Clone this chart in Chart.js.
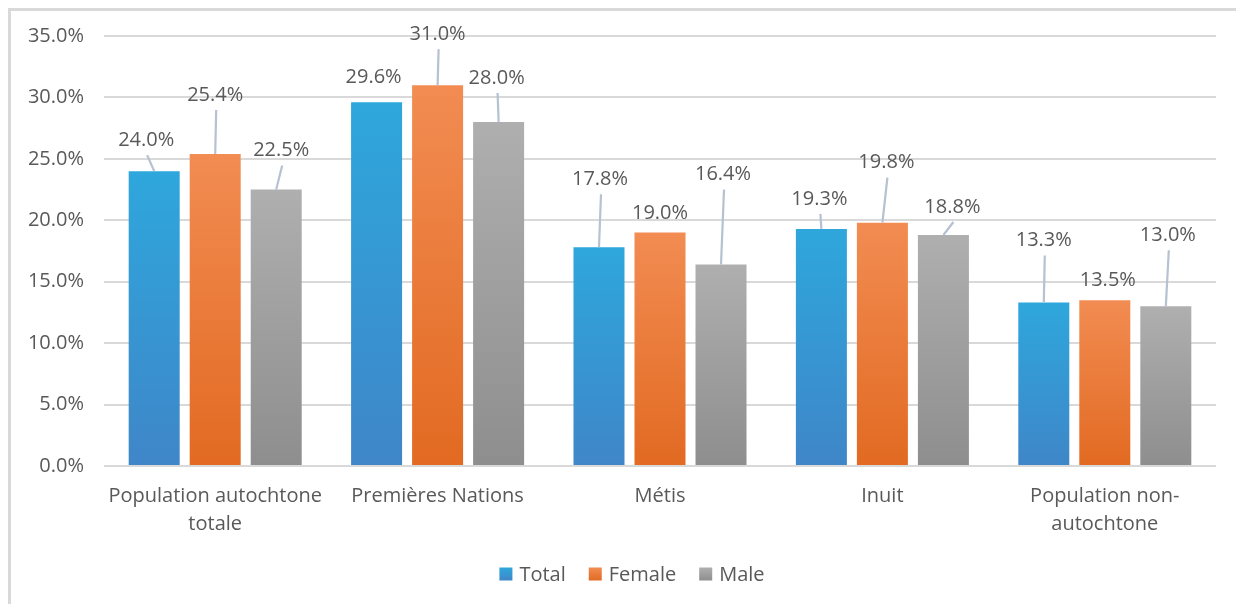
<!DOCTYPE html>
<html>
<head>
<meta charset="utf-8">
<script src="https://cdn.jsdelivr.net/npm/chart.js@4.4.1/dist/chart.umd.min.js"></script>
<style>
  html, body { margin: 0; padding: 0; background: #ffffff; }
  #wrap { width: 1236px; height: 604px; position: relative; }
</style>
</head>
<body>
<div id="wrap"><canvas id="c" width="1236" height="604"></canvas></div>
<script>
// ---- Data ----
const categories = [
  ["Population autochtone", "totale"],
  "Premières Nations",
  "Métis",
  "Inuit",
  ["Population non-", "autochtone"]
];
const seriesNames = ["Total", "Female", "Male"];
const totalValues  = [24.0, 29.6, 17.8, 19.3, 13.3];
const femaleValues = [25.4, 31.0, 19.0, 19.8, 13.5];
const maleValues   = [22.5, 28.0, 16.4, 18.8, 13.0];
const yTicks = [0, 5, 10, 15, 20, 25, 30, 35];

// ---- Styling (not data) ----
const gradients = [
  ["#2ea7dc", "#3f86c8"],
  ["#f28c52", "#e26a22"],
  ["#afafaf", "#8e8e8e"]
];
// label centre offsets from the top centre of each bar [dx, dy]
const labelOffsets = [
  [[-8,-32],[-3,-26],[1,-69],[-2,-31],[0,-63]],
  [[0,-60],[0,-52],[0,-20],[4,-61],[3,-21]],
  [[5,-40],[-2,-45],[2,-91],[9,-29],[2,-72]]
];
const TEXT = "#595959";
const GRID = "#d9d9d9";
const FONT = "'Open Sans', 'Noto Sans', sans-serif";
const FS = 20;

Chart.defaults.font.family = FONT;
Chart.defaults.font.size = FS;
Chart.defaults.color = TEXT;

function barGradient(idx) {
  return function(ctx) {
    const chart = ctx.chart;
    const ys = chart.scales && chart.scales.y;
    if (!ys || !chart.chartArea || ctx.raw === undefined) return gradients[idx][0];
    const top = ys.getPixelForValue(ctx.raw);
    const bottom = ys.getPixelForValue(0);
    if (!isFinite(top) || !isFinite(bottom) || top === bottom) return gradients[idx][0];
    const g = chart.ctx.createLinearGradient(0, top, 0, bottom);
    g.addColorStop(0, gradients[idx][0]);
    g.addColorStop(1, gradients[idx][1]);
    return g;
  };
}

const framePlugin = {
  id: 'frame',
  beforeDraw(chart) {
    const c = chart.ctx;
    c.save();
    c.fillStyle = '#ffffff';
    c.fillRect(0, 0, chart.width, chart.height);
    c.strokeStyle = GRID;
    c.lineWidth = 3;
    c.strokeRect(9.5, 9.5, chart.width + 20, chart.height + 20);
    c.restore();
  }
};

const labelPlugin = {
  id: 'calloutLabels',
  afterDatasetsDraw(chart) {
    const c = chart.ctx;
    c.save();
    c.font = FS + "px " + FONT;
    c.fillStyle = TEXT;
    c.textAlign = 'center';
    c.textBaseline = 'middle';
    chart.data.datasets.forEach((ds, i) => {
      const meta = chart.getDatasetMeta(i);
      meta.data.forEach((bar, j) => {
        const off = labelOffsets[i][j];
        const lx = bar.x + off[0];
        const ly = bar.y + off[1];
        if (-off[1] > 27) {
          c.strokeStyle = '#b6c1d1';
          c.lineWidth = 2.2;
          c.beginPath();
          c.moveTo(lx + 1, ly + 16);
          c.lineTo(bar.x, bar.y);
          c.stroke();
        }
        c.fillText(ds.data[j].toFixed(1) + '%', lx, ly + 1);
      });
    });
    c.restore();
  }
};

const legendPlugin = {
  id: 'customLegend',
  afterDraw(chart) {
    const c = chart.ctx;
    c.save();
    c.font = FS + "px " + FONT;
    c.textBaseline = 'middle';
    c.textAlign = 'left';
    const box = 13, gap = 7, spacing = 23, cy = 574;
    const widths = chart.data.datasets.map(d => box + gap + c.measureText(d.label).width);
    const total = widths.reduce((a, b) => a + b, 0) + spacing * (widths.length - 1);
    let x = (chart.width - total) / 2 + 14;
    chart.data.datasets.forEach((d, i) => {
      const g = c.createLinearGradient(0, cy - box / 2, 0, cy + box / 2);
      g.addColorStop(0, gradients[i][0]);
      g.addColorStop(1, gradients[i][1]);
      c.fillStyle = g;
      c.fillRect(x, cy - box / 2, box, box);
      c.fillStyle = TEXT;
      c.fillText(d.label, x + box + gap, cy + 1);
      x += widths[i] + spacing;
    });
    c.restore();
  }
};

const seriesValues = [totalValues, femaleValues, maleValues];

new Chart(document.getElementById('c'), {
  type: 'bar',
  data: {
    labels: categories,
    datasets: seriesNames.map((name, i) => ({
      label: name,
      data: seriesValues[i],
      backgroundColor: barGradient(i),
      borderWidth: 0,
      categoryPercentage: 0.823,
      barPercentage: 0.836
    }))
  },
  options: {
    responsive: false,
    animation: false,
    devicePixelRatio: 1,
    layout: { padding: { left: 0, right: 20, top: 36, bottom: 58 } },
    plugins: {
      legend: { display: false },
      tooltip: { enabled: false }
    },
    scales: {
      x: {
        grid: { display: false, drawTicks: false },
        border: { display: false },
        ticks: {
          padding: 16,
          maxRotation: 0,
          autoSkip: false,
          color: TEXT,
          font: { size: FS, lineHeight: 1.4 }
        },
        afterFit(scale) { scale.height = 80; }
      },
      y: {
        min: 0,
        max: 35,
        afterBuildTicks(scale) { scale.ticks = yTicks.map(v => ({ value: v })); },
        grid: { color: GRID, lineWidth: 2, drawTicks: false },
        border: { display: false },
        ticks: {
          padding: 20,
          color: TEXT,
          font: { size: FS },
          callback: v => Number(v).toFixed(1) + '%'
        },
        afterFit(scale) { scale.width = 104; }
      }
    }
  },
  plugins: [framePlugin, labelPlugin, legendPlugin]
});
</script>
</body>
</html>
